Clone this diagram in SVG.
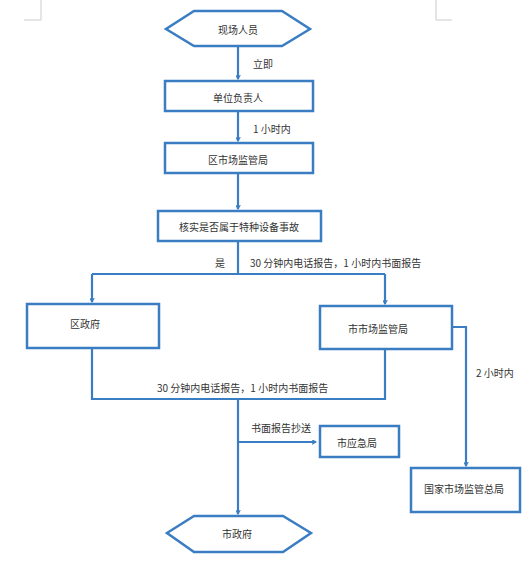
<svg xmlns="http://www.w3.org/2000/svg" width="532" height="561" viewBox="0 0 532 561">
<style>
.n{fill:#fff;stroke:#3a7dc2;stroke-width:2.5}
.c{fill:none;stroke:#3a7dc2;stroke-width:2.2}
.t{font-family:"Noto Sans CJK SC","Liberation Sans",sans-serif;font-size:10px;fill:#333;text-anchor:middle;dominant-baseline:central}
.l{font-family:"Noto Sans CJK SC","Liberation Sans",sans-serif;font-size:10px;fill:#333;dominant-baseline:central}
.m{fill:none;stroke:#ccc;stroke-width:1}
</style>
<defs>
<marker id="a" viewBox="0 0 10 10" refX="9" refY="5" markerWidth="5" markerHeight="5" orient="auto" markerUnits="userSpaceOnUse">
<path d="M1,0.5 L9,5 L1,9.5" fill="none" stroke="#3a7dc2" stroke-width="2.2"/>
</marker>
</defs>
<rect width="532" height="561" fill="#fff"/>
<path class="m" d="M41,0 V20 H24 M436,0 V20 H452"/>
<g id="connectors">
<path class="c" d="M238,46 V79" marker-end="url(#a)"/>
<path class="c" d="M238,111 V141" marker-end="url(#a)"/>
<path class="c" d="M238,173 V209" marker-end="url(#a)"/>
<path class="c" d="M238,241 V274"/>
<path class="c" d="M92,274 H385"/>
<path class="c" d="M92,274 V302" marker-end="url(#a)"/>
<path class="c" d="M385,274 V304" marker-end="url(#a)"/>
<path class="c" d="M92,348 V399 H385 V349"/>
<path class="c" d="M238,399 V514" marker-end="url(#a)"/>
<path class="c" d="M238,442 H316" marker-end="url(#a)"/>
<path class="c" d="M452,327 H466 V466" marker-end="url(#a)"/>
<text class="l" x="253" y="63">立即</text>
<text class="l" x="253" y="128">1 小时内</text>
<text class="l" x="215" y="262">是</text>
<text class="l" x="250" y="262">30 分钟内电话报告，1 小时内书面报告</text>
<text class="l" x="157" y="387">30 分钟内电话报告，1 小时内书面报告</text>
<text class="l" x="251" y="427">书面报告抄送</text>
<text class="l" x="476" y="372">2 小时内</text>
</g>
<g id="n1"><polygon class="n" points="194,11 282,11 310,29 282,46 194,46 166,29"/><text class="t" x="238" y="29">现场人员</text></g>
<g id="n2"><rect class="n" x="165" y="81" width="148" height="30"/><text class="t" x="238" y="97">单位负责人</text></g>
<g id="n3"><rect class="n" x="165" y="143" width="148" height="30"/><text class="t" x="238" y="159">区市场监管局</text></g>
<g id="n4"><rect class="n" x="158" y="211" width="163" height="30"/><text class="t" x="239" y="226">核实是否属于特种设备事故</text></g>
<g id="n5"><rect class="n" x="27" y="304" width="132" height="44"/><text class="t" x="85" y="323">区政府</text></g>
<g id="n6"><rect class="n" x="320" y="306" width="132" height="43"/><text class="t" x="378" y="328">市市场监管局</text></g>
<g id="n7"><rect class="n" x="320" y="426" width="79" height="31"/><text class="t" x="357" y="442">市应急局</text></g>
<g id="n8"><rect class="n" x="411" y="468" width="109" height="44"/><text class="t" x="464" y="488">国家市场监管总局</text></g>
<g id="n9"><polygon class="n" points="194,516 283,516 311,533 283,552 194,552 167,533"/><text class="t" x="237" y="533">市政府</text></g>
</svg>
